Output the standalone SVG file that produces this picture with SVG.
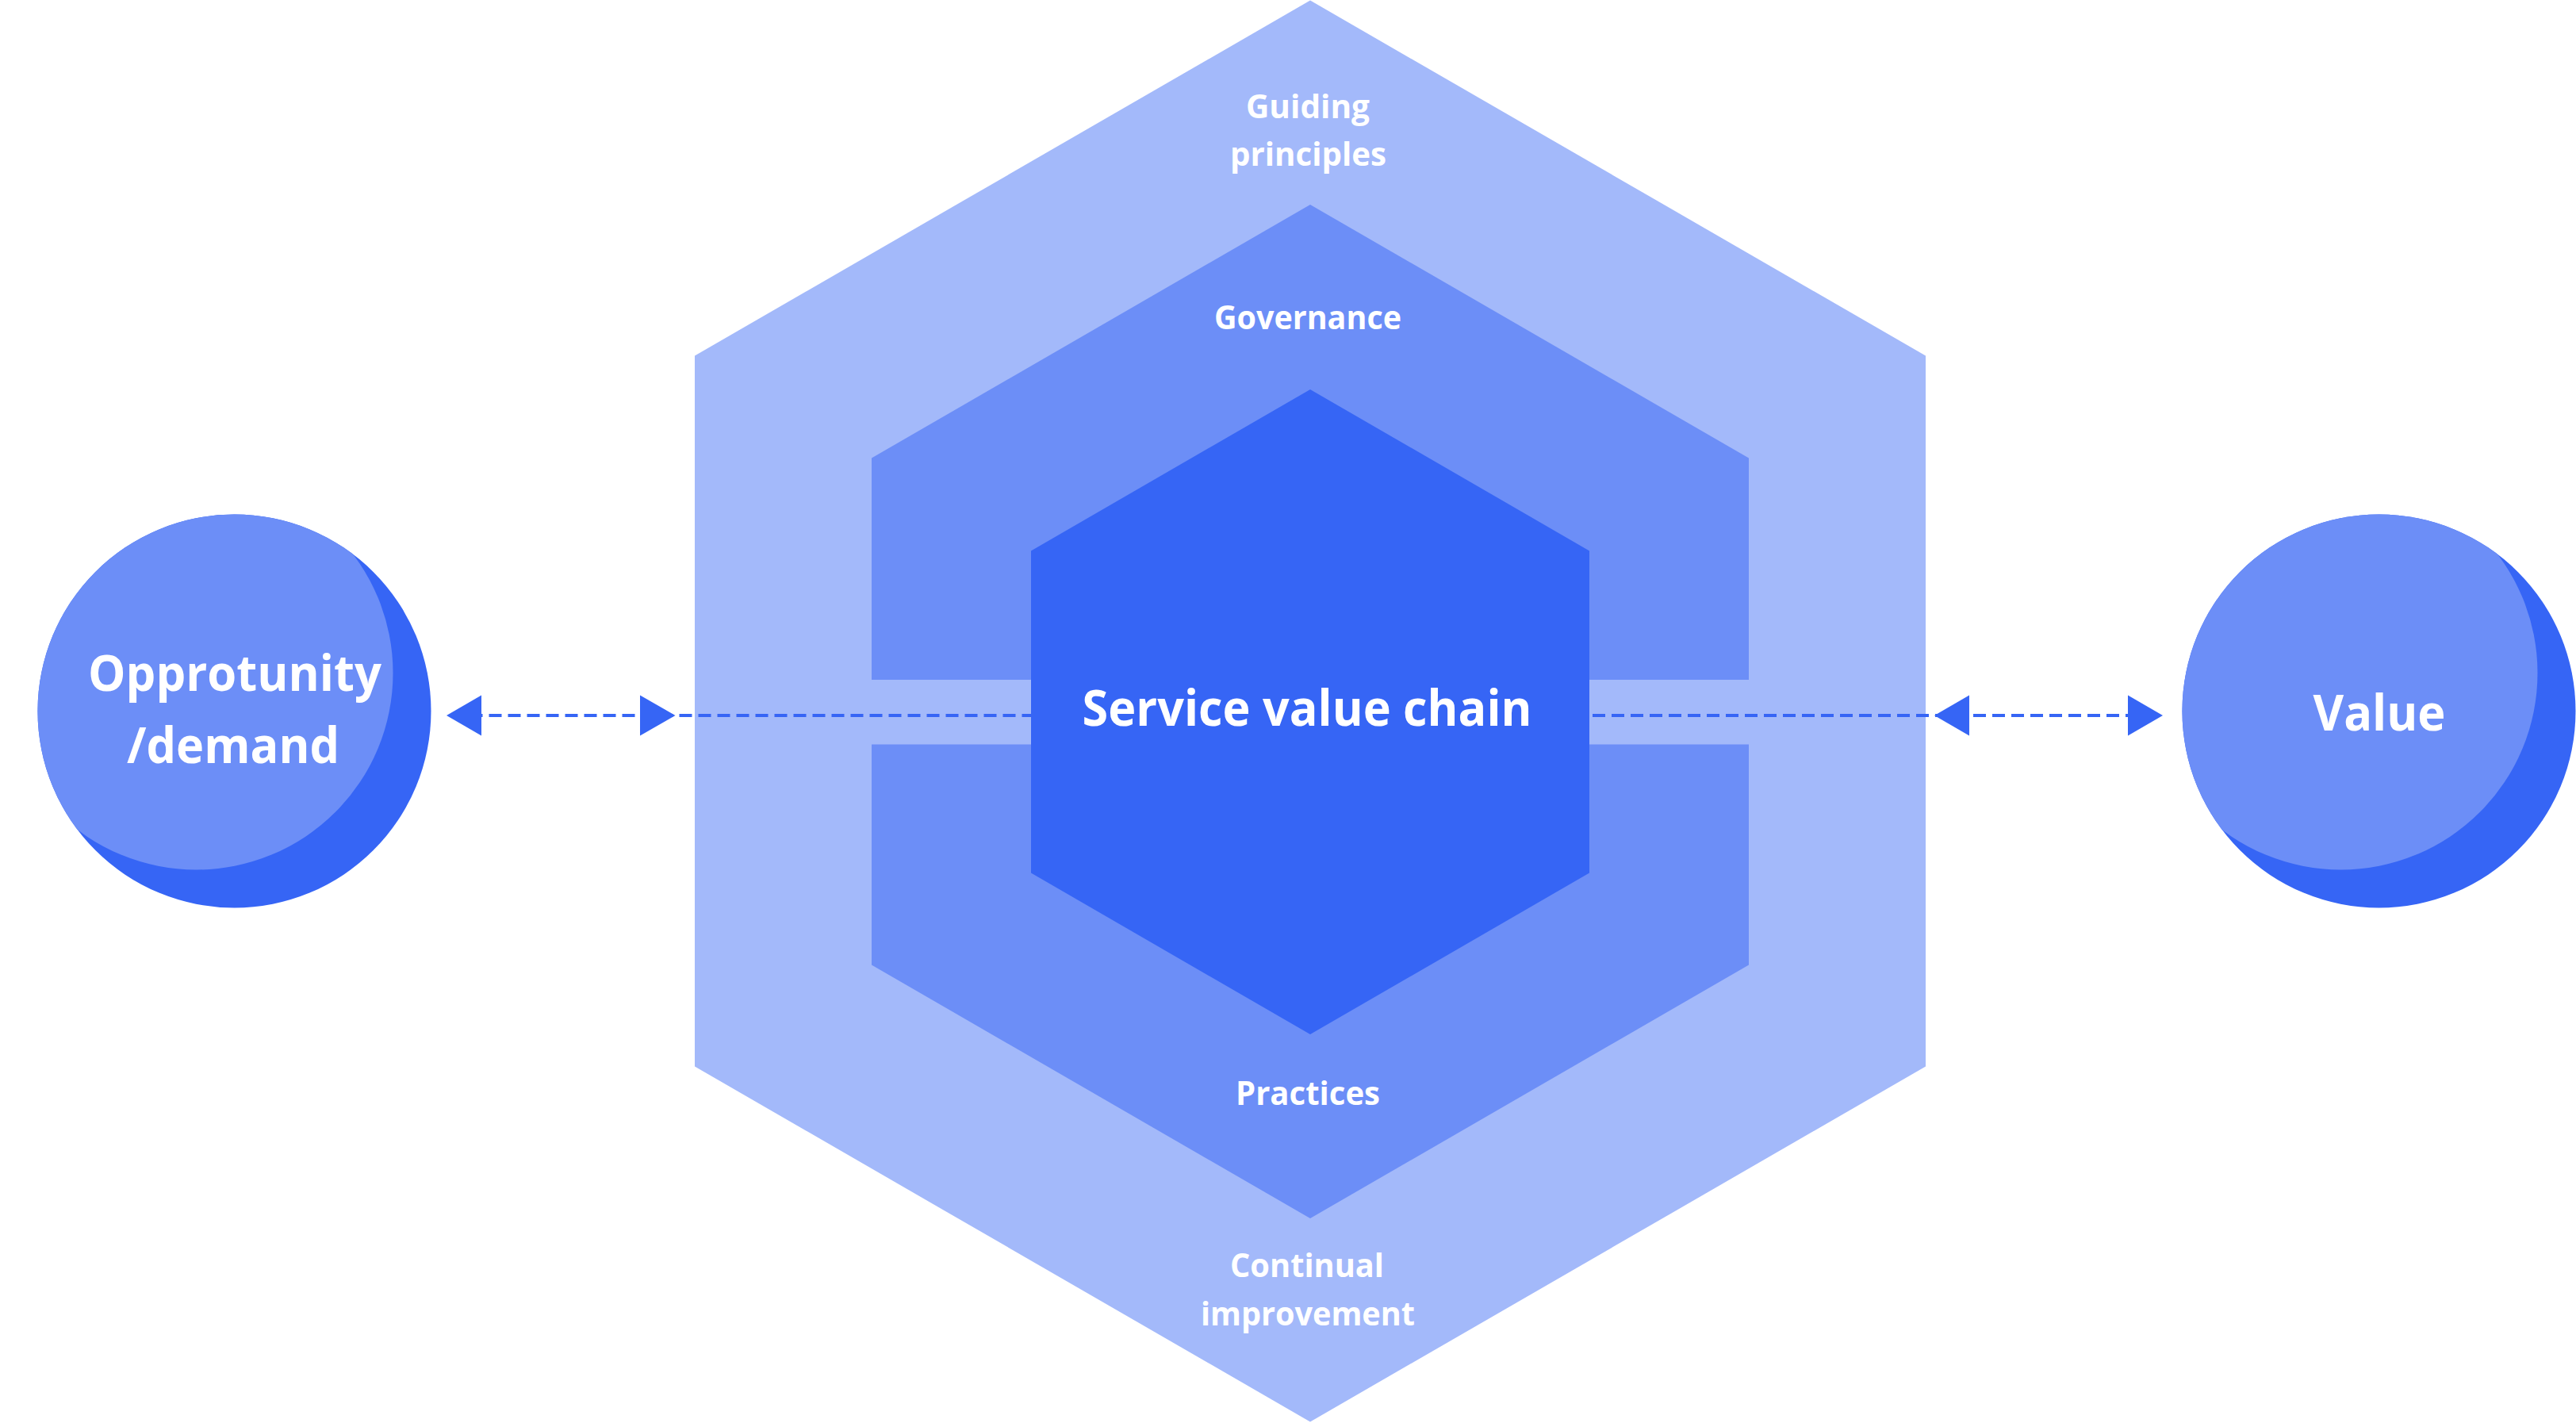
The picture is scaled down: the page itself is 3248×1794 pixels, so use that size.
<svg xmlns="http://www.w3.org/2000/svg" width="3248" height="1794" viewBox="0 0 3248 1794">
  <style>
    .light { fill: #A3B9FA; }
    .mid { fill: #6C8EF7; }
    .dark { fill: #3665F5; }
    .lbl { font-family: "Open Sans", "Noto Sans", "Liberation Sans", sans-serif; font-weight: 700; fill: #FFFFFF; text-anchor: middle; }
    .sm { font-size: 42px; }
    .lg { font-size: 63px; }
    .dash { fill: none; stroke: #3665F5; stroke-width: 4; stroke-dasharray: 16 8; }
    .head { fill: #3665F5; }
  </style>
  <defs>
    <clipPath id="clipL"><circle cx="295.5" cy="896.5" r="248"/></clipPath>
    <clipPath id="clipR"><circle cx="2999.5" cy="896.5" r="248"/></clipPath>
  </defs>
  <rect x="0" y="0" width="3248" height="1794" fill="#FFFFFF"/>

  <g id="guiding-principles">
    <polygon class="light" points="1652,0.5 2428,448.5 2428,1344.5 1652,1792.5 876,1344.5 876,448.5"/>
    <text class="lbl sm" x="1649" y="149" textLength="156" lengthAdjust="spacingAndGlyphs">Guiding</text>
    <text class="lbl sm" x="1649.5" y="209" textLength="197" lengthAdjust="spacingAndGlyphs">principles</text>
    <text class="lbl sm" x="1648" y="1610" textLength="194" lengthAdjust="spacingAndGlyphs">Continual</text>
    <text class="lbl sm" x="1649" y="1671" textLength="270" lengthAdjust="spacingAndGlyphs">improvement</text>
  </g>

  <g id="governance">
    <polygon class="mid" points="1652,258 2205,577.5 2205,857 1099,857 1099,577.5"/>
    <text class="lbl sm" x="1649" y="415" textLength="236" lengthAdjust="spacingAndGlyphs">Governance</text>
  </g>

  <g id="practices">
    <polygon class="mid" points="1099,938.5 2205,938.5 2205,1216.5 1652,1536 1099,1216.5"/>
    <text class="lbl sm" x="1649" y="1393" textLength="182" lengthAdjust="spacingAndGlyphs">Practices</text>
  </g>

  <g id="connectors">
    <path class="dash" d="M568.5 902 H1300"/>
    <polygon class="head" points="563,902 607,876.5 607,927.5"/>
    <polygon class="head" points="851.5,902 807,876.5 807,927.5"/>
    <path class="dash" d="M2008 902 H2727"/>
    <polygon class="head" points="2439,902 2483,876.5 2483,927.5"/>
    <polygon class="head" points="2727,902 2683,876.5 2683,927.5"/>
  </g>

  <g id="service-value-chain">
    <polygon class="dark" points="1652,491 2004,694.5 2004,1100.5 1652,1304 1300,1100.5 1300,694.5"/>
    <text class="lbl lg" x="1648" y="915" textLength="567" lengthAdjust="spacingAndGlyphs">Service value chain</text>
  </g>

  <g id="opportunity-demand">
    <circle class="dark" cx="295.5" cy="896.5" r="248"/>
    <circle class="mid" cx="247.5" cy="848.5" r="248" clip-path="url(#clipL)"/>
    <text class="lbl lg" x="296" y="871" textLength="370" lengthAdjust="spacingAndGlyphs">Opprotunity</text>
    <text class="lbl lg" x="294" y="961.5" textLength="268" lengthAdjust="spacingAndGlyphs">/demand</text>
  </g>

  <g id="value">
    <circle class="dark" cx="2999.5" cy="896.5" r="248"/>
    <circle class="mid" cx="2951.5" cy="848.5" r="248" clip-path="url(#clipR)"/>
    <text class="lbl lg" x="3000" y="921" textLength="167" lengthAdjust="spacingAndGlyphs">Value</text>
  </g>
</svg>
